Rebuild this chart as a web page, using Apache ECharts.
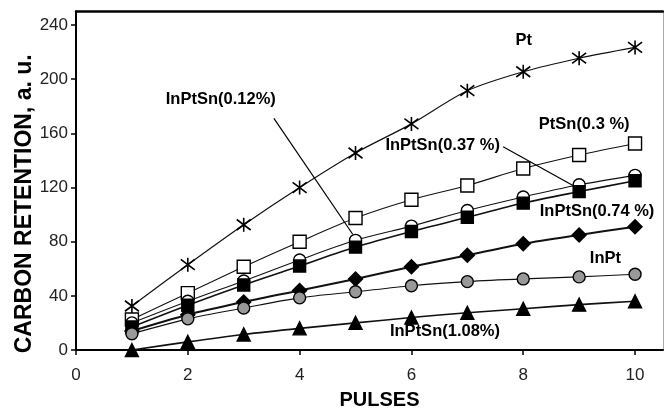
<!DOCTYPE html>
<html>
<head>
<meta charset="utf-8">
<script src="https://cdn.jsdelivr.net/npm/echarts@6/dist/echarts.min.js"></script>
<style>html,body{margin:0;padding:0;background:#fff}#c{width:664px;height:410px}</style>
</head>
<body>
<div id="c"></div>
<script>
// ---- data ----
const pulses = [1, 2, 3, 4, 5, 6, 7, 8, 9, 10];
const seriesNames = ['Pt', 'PtSn(0.3 %)', 'InPtSn(0.12%)', 'InPtSn(0.37 %)', 'InPtSn(0.74 %)', 'InPt', 'InPtSn(1.08%)'];
const ptValues        = [32.5, 63, 92.5, 120, 145.5, 167, 191.5, 205.5, 215.5, 223.5];
const ptSn03Values    = [22.5, 42, 61.5, 80, 97.5, 111, 121.5, 134, 144, 152.5];
const inPtSn012Values = [20, 36, 51, 66.5, 81, 91.5, 103, 113, 122, 129];
const inPtSn037Values = [17, 33, 48, 62, 76, 87.5, 98, 108.5, 117, 125];
const inPtSn074Values = [14, 26, 35.5, 44, 52.5, 61.5, 70, 78.5, 85, 91];
const inPtValues      = [12, 23, 31, 38.5, 43, 47.5, 50.5, 52.5, 54, 56];
const inPtSn108Values = [0, 6, 11.5, 16, 20, 24, 27.5, 30.5, 33.5, 36];
const xTicks = [0, 2, 4, 6, 8, 10];
const yTicks = [0, 40, 80, 120, 160, 200, 240];

// annotation labels (data coordinates)
const noteTexts = ['Pt', 'InPtSn(0.12%)', 'PtSn(0.3 %)', 'InPtSn(0.37 %)', 'InPtSn(0.74 %)', 'InPt', 'InPtSn(1.08%)'];
const noteX = [8.01, 2.59, 9.09, 6.56, 9.32, 9.47, 6.6];
const noteY = [228.5, 185, 166.5, 151, 102.5, 67.5, 14];
// arrows in data coordinates
const arrowFrom = [[3.54, 171.1], [7.64, 150.1]];
const arrowTo   = [[4.95, 85.5], [8.93, 120.5]];

const FONT = 'Liberation Sans, Arial, sans-serif';
const chart = echarts.init(document.getElementById('c'), null, {renderer: 'canvas'});

const asterisk = 'path://M0,-1L0,1M-0.75,-0.75L0.75,0.75M-0.75,0.75L0.75,-0.75';

function mk(name, data, symbol, size, fill, lineW) {
  return {
    name: name,
    type: 'line',
    data: pulses.map((p, i) => [p, data[i]]),
    smooth: 0.3,
    symbol: symbol,
    symbolSize: size,
    showAllSymbol: true,
    lineStyle: {color: '#111', width: lineW},
    itemStyle: {color: fill, borderColor: '#000', borderWidth: 1.4},
    emphasis: {disabled: true},
    z: 3
  };
}

const series = [
  mk(seriesNames[0], ptValues, asterisk, 14, '#000', 1.2),
  mk(seriesNames[1], ptSn03Values, 'rect', 13, '#fff', 1.1),
  mk(seriesNames[2], inPtSn012Values, 'circle', 12, '#fff', 1.1),
  mk(seriesNames[3], inPtSn037Values, 'rect', 12, '#000', 1.6),
  mk(seriesNames[4], inPtSn074Values, 'diamond', 14, '#000', 2),
  mk(seriesNames[5], inPtValues, 'circle', 12, '#999', 1.1),
  mk(seriesNames[6], inPtSn108Values, 'triangle', 13, '#000', 1.6)
];
series[0].itemStyle.borderWidth = 1.6;

series.push({
  type: 'line',
  data: [],
  silent: true,
  markPoint: {
    symbol: 'circle',
    symbolSize: 1,
    itemStyle: {color: 'rgba(0,0,0,0)'},
    label: {show: true, position: 'inside', formatter: '{b}', color: '#000', fontWeight: 'bold', fontSize: 16.5, fontFamily: FONT},
    data: noteTexts.map((t, i) => ({name: t, coord: [noteX[i], noteY[i]]}))
  },
  markLine: {
    silent: true,
    symbol: ['none', 'arrow'],
    symbolSize: [0, 9],
    lineStyle: {color: '#000', width: 1.2, type: 'solid'},
    label: {show: false},
    data: arrowFrom.map((f, i) => [{coord: f}, {coord: arrowTo[i]}])
  }
});

chart.setOption({
  animation: false,
  backgroundColor: '#fff',
  grid: {left: 76, right: 1, top: 11.5, bottom: 60, containLabel: false, outerBoundsMode: 'none'},
  xAxis: [{
    type: 'value', min: 0, max: 10.5, interval: 2,
    name: 'PULSES', nameLocation: 'middle', nameGap: 40, nameMoveOverlap: false,
    nameTextStyle: {fontFamily: FONT, fontWeight: 'bold', fontSize: 20, color: '#000', padding: [0, 0, 0, 20]},
    axisLine: {show: true, onZero: false, lineStyle: {color: '#000', width: 2}},
    axisTick: {show: true, length: 5, lineStyle: {color: '#000', width: 1.5}},
    axisLabel: {showMaxLabel: false, margin: 17, fontFamily: FONT, fontSize: 17, color: '#222',
      formatter: v => (xTicks.indexOf(v) >= 0 ? String(v) : '')},
    splitLine: {show: false}
  }, {
    type: 'value', position: 'top', min: 0, max: 10.5,
    axisLine: {show: true, onZero: false, lineStyle: {color: '#000', width: 2.5}},
    axisTick: {show: false}, axisLabel: {show: false}, splitLine: {show: false}
  }],
  yAxis: [{
    type: 'value', min: 0, max: 250, interval: 40,
    name: 'CARBON RETENTION, a. u.', nameLocation: 'middle', nameGap: 40, nameMoveOverlap: false,
    nameTextStyle: {fontFamily: FONT, fontWeight: 'bold', fontSize: 23, color: '#000', padding: [0, 46, 0, 0]},
    axisLine: {show: true, onZero: false, lineStyle: {color: '#000', width: 2}},
    axisTick: {show: true, length: 5, lineStyle: {color: '#000', width: 1.5}},
    axisLabel: {showMaxLabel: false, margin: 8, fontFamily: FONT, fontSize: 17, color: '#222',
      formatter: v => (yTicks.indexOf(v) >= 0 ? String(v) : '')},
    splitLine: {show: false}
  }, {
    type: 'value', position: 'right', min: 0, max: 250,
    axisLine: {show: true, onZero: false, lineStyle: {color: '#aaa', width: 1}},
    axisTick: {show: false}, axisLabel: {show: false}, splitLine: {show: false}
  }],
  series: series
});
</script>
</body>
</html>
